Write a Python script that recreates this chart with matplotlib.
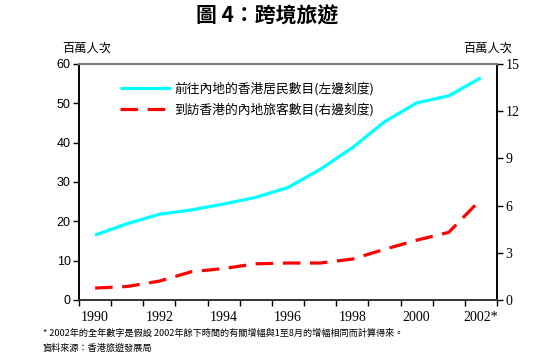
import matplotlib.pyplot as plt
from matplotlib.ticker import FixedLocator, NullFormatter

CJK = ["Noto Sans CJK TC", "DejaVu Sans"]
SERIF = ["Liberation Serif", "DejaVu Serif"]

years = ["1990", "1991", "1992", "1993", "1994", "1995", "1996",
         "1997", "1998", "1999", "2000", "2001", "2002*"]
hk_residents = [16.5, 19.4, 21.8, 22.9, 24.4, 26.1, 28.6,
                33.2, 38.7, 45.3, 50.1, 51.9, 56.5]
mainland_visitors = [0.76, 0.86, 1.2, 1.8, 2.0, 2.3, 2.35,
                     2.35, 2.6, 3.22, 3.8, 4.3, 6.4]
label_hk = "前往內地的香港居民數目(左邊刻度)"
label_ml = "到訪香港的內地旅客數目(右邊刻度)"


def main() -> None:
    fig = plt.figure(figsize=(5.48, 3.61), dpi=100)
    ax = fig.add_axes([79 / 548, 1 - 300 / 361, 418 / 548, 236 / 361])
    ax2 = ax.twinx()

    x = list(range(len(years)))
    l1, = ax.plot(x, hk_residents, color="#00ffff", lw=2.3,
                  solid_capstyle="butt", zorder=3)
    l2, = ax2.plot(x, mainland_visitors, color="#ff0000", lw=2.3,
                   dashes=(5.5, 3), zorder=3)

    ax.set_xlim(-0.5, len(years) - 0.5)
    ax.set_ylim(0, 60)
    ax2.set_ylim(0, 15)
    ax.set_yticks(range(0, 61, 10))
    ax2.set_yticks(range(0, 16, 3))

    # category axis: tick marks between categories, labels on every other one
    ax.set_xticks(x[::2])
    ax.set_xticklabels(years[::2], fontfamily=SERIF, fontsize=10)
    ax.xaxis.set_minor_locator(FixedLocator([i - 0.5 for i in range(len(years) + 1)]))
    ax.xaxis.set_minor_formatter(NullFormatter())
    ax.tick_params(axis="x", which="major", length=0, pad=8)
    ax.tick_params(axis="x", which="minor", length=4, width=1, direction="out")

    ax.tick_params(axis="y", length=4, width=1, direction="out", pad=2, labelsize=9)
    for lab in ax.get_yticklabels():
        lab.set_fontfamily(["Liberation Sans", "DejaVu Sans"])
    ax2.tick_params(axis="y", length=4, width=1, direction="out", pad=2)
    for lab in ax2.get_yticklabels():
        lab.set_fontfamily(SERIF)
        lab.set_fontsize(10)

    for a in (ax, ax2):
        a.spines["top"].set_color("#808080")
        a.spines["top"].set_linewidth(1.5)
        a.spines["left"].set_linewidth(1.2)
        a.spines["right"].set_linewidth(1.2)
        a.spines["bottom"].set_linewidth(1.2)
        a.spines["bottom"].set_color("#333333")

    fig.text(0.487, 0.955, "圖 4：跨境旅遊", ha="center", va="center",
             fontsize=15, fontweight="bold", family=CJK)
    fig.text(87 / 548, 1 - 48 / 361, "百萬人次", ha="center", va="center",
             fontsize=8.8, family=CJK)
    fig.text(488 / 548, 1 - 48 / 361, "百萬人次", ha="center", va="center",
             fontsize=8.8, family=CJK)

    leg = ax.legend([l1, l2], [label_hk, label_ml], loc="upper left",
                    bbox_to_anchor=(0.07, 0.975), frameon=False,
                    prop={"family": CJK, "size": 9.2}, handlelength=4.0,
                    handletextpad=0.3, labelspacing=0.6)
    leg.set_zorder(5)

    fig.text(43 / 548, 1 - 333 / 361,
             "* 2002年的全年數字是假設 2002年餘下時間的有關增幅與1至8月的增幅相同而計算得來。",
             ha="left", va="center", fontsize=6.6, family=CJK)
    fig.text(43 / 548, 1 - 348 / 361, "資料來源：香港旅遊發展局",
             ha="left", va="center", fontsize=6.6, family=CJK)

    fig.savefig("out.png", dpi=100)
    plt.close(fig)


if __name__ == "__main__":
    main()
